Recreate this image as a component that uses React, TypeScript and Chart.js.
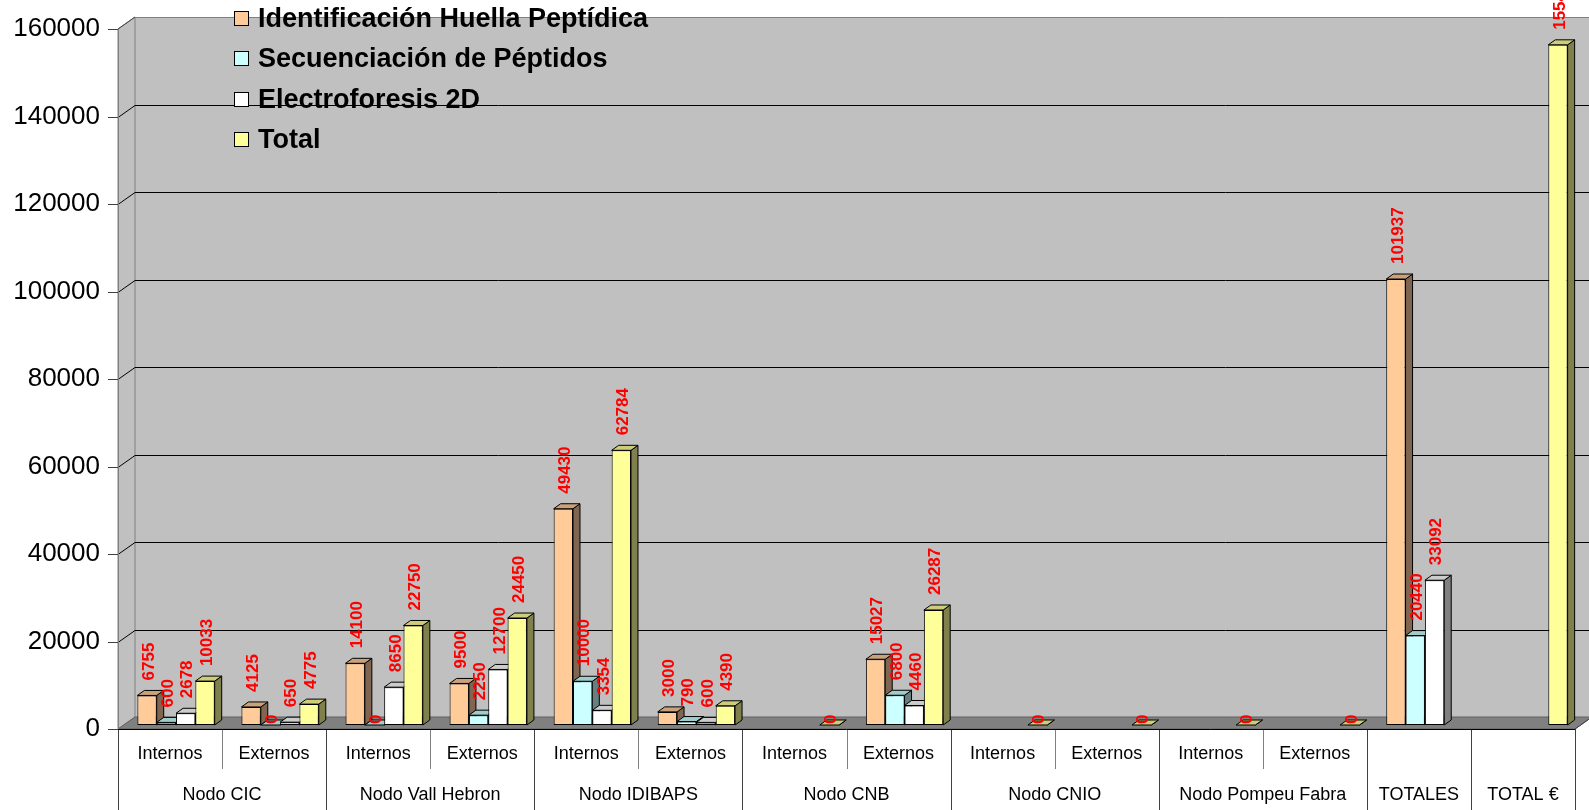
import React, { useEffect, useRef } from 'react';
import { Chart, registerables } from 'chart.js';
Chart.register(...registerables);

const categories = ['Internos', 'Externos', 'Internos', 'Externos', 'Internos', 'Externos', 'Internos', 'Externos', 'Internos', 'Externos', 'Internos', 'Externos', '', ''];
const groupLabels = ['Nodo CIC', 'Nodo Vall Hebron', 'Nodo IDIBAPS', 'Nodo CNB', 'Nodo CNIO', 'Nodo Pompeu Fabra', 'TOTALES', 'TOTAL €'];
const groupSpans = [2, 2, 2, 2, 2, 2, 1, 1];
const seriesNames = ['Identificación Huella Peptídica', 'Secuenciación de Péptidos', 'Electroforesis 2D', 'Total'];
const huella = [6755, 4125, 14100, 9500, 49430, 3000, null, 15027, null, null, null, null, 101937, null];
const secuenciacion = [600, 0, 0, 2250, 10000, 790, null, 6800, null, null, null, null, 20440, null];
const electroforesis = [2678, 650, 8650, 12700, 3354, 600, null, 4460, null, null, null, null, 33092, null];
const total = [10033, 4775, 22750, 24450, 62784, 4390, 0, 26287, 0, 0, 0, 0, null, 155469];
const yMax = 160000;
const yStep = 20000;

const frontColors = ['#FFCC99', '#CCFFFF', '#FFFFFF', '#FFFF99'];
const sideColors = ['#806650', '#668080', '#808080', '#80804D'];
const topColors = ['#C9A27C', '#A0CCCC', '#CCCCCC', '#CCCC7A'];

const FONT = '"Liberation Sans", Arial, sans-serif';
// projection offsets relative to the bar plane
const FX = -6, FY = 4; // front plane
const BX = 11, BY = -8; // back wall
const DX = 7, DY = 5; // bar depth

const scenePlugin = {
  id: 'scene3d',
  beforeDatasetsDraw(chart: any) {
    const { ctx, chartArea, scales } = chart;
    const { left, right, bottom } = chartArea;
    const y = scales.y;
    const W = chart.width;
    const yTopBar = y.getPixelForValue(yMax);
    ctx.save();
    ctx.lineWidth = 1;
    ctx.fillStyle = '#C0C0C0';
    ctx.fillRect(left + BX, yTopBar + BY, W - (left + BX), bottom - yTopBar);
    ctx.strokeStyle = '#808080';
    ctx.beginPath();
    ctx.moveTo(left + BX, Math.round(yTopBar + BY) + 0.5);
    ctx.lineTo(W, Math.round(yTopBar + BY) + 0.5);
    ctx.stroke();
    ctx.beginPath();
    ctx.moveTo(left + FX, yTopBar + FY);
    ctx.lineTo(left + BX, yTopBar + BY);
    ctx.lineTo(left + BX, bottom + BY);
    ctx.lineTo(left + FX, bottom + FY);
    ctx.closePath();
    ctx.fillStyle = '#C0C0C0';
    ctx.fill();
    ctx.strokeStyle = '#808080';
    ctx.stroke();
    for (let v = yStep; v < yMax; v += yStep) {
      const py = Math.round(y.getPixelForValue(v)) + 0.5;
      ctx.strokeStyle = '#000000';
      ctx.beginPath();
      ctx.moveTo(left + FX, py + FY);
      ctx.lineTo(left + BX, py + BY);
      ctx.lineTo(W, py + BY);
      ctx.stroke();
    }
    ctx.strokeStyle = '#404040';
    ctx.beginPath();
    ctx.moveTo(left + FX, yTopBar + FY);
    ctx.lineTo(left + BX, yTopBar + BY);
    ctx.stroke();
    ctx.strokeStyle = '#404040';
    for (let v = 0; v <= yMax; v += yStep) {
      const py = Math.round(y.getPixelForValue(v)) + 0.5 + FY;
      ctx.beginPath();
      ctx.moveTo(left + FX - 10, py);
      ctx.lineTo(left + FX, py);
      ctx.stroke();
    }
    ctx.beginPath();
    ctx.moveTo(left + FX, bottom + FY);
    ctx.lineTo(right + FX, bottom + FY);
    ctx.lineTo(right + BX, bottom + BY);
    ctx.lineTo(left + BX, bottom + BY);
    ctx.closePath();
    ctx.fillStyle = '#808080';
    ctx.fill();
    ctx.strokeStyle = '#606060';
    ctx.stroke();
    ctx.strokeStyle = '#808080';
    ctx.beginPath();
    ctx.moveTo(left + FX + 0.5, yTopBar + FY);
    ctx.lineTo(left + FX + 0.5, bottom + FY);
    ctx.stroke();

    ctx.strokeStyle = '#000000';
    chart.data.datasets.forEach((ds: any, i: number) => {
      const meta = chart.getDatasetMeta(i);
      meta.data.forEach((bar: any, j: number) => {
        const v = ds.data[j];
        if (v == null) return;
        const p = bar.getProps(['x', 'y', 'base', 'width'], true);
        const xl = p.x - p.width / 2;
        const xr = p.x + p.width / 2;
        const ty = p.y;
        const base = p.base;
        ctx.beginPath();
        ctx.moveTo(xr, ty);
        ctx.lineTo(xr + DX, ty - DY);
        ctx.lineTo(xr + DX, base - DY);
        ctx.lineTo(xr, base);
        ctx.closePath();
        ctx.fillStyle = sideColors[i];
        ctx.fill();
        ctx.stroke();
        ctx.beginPath();
        ctx.moveTo(xl, ty);
        ctx.lineTo(xr, ty);
        ctx.lineTo(xr + DX, ty - DY);
        ctx.lineTo(xl + DX, ty - DY);
        ctx.closePath();
        ctx.fillStyle = topColors[i];
        ctx.fill();
        ctx.stroke();
      });
    });
    ctx.restore();
  },
  afterDatasetsDraw(chart: any) {
    const { ctx } = chart;
    ctx.save();
    ctx.fillStyle = '#FF0000';
    ctx.font = 'bold 17px ' + FONT;
    ctx.textAlign = 'left';
    ctx.textBaseline = 'middle';
    chart.data.datasets.forEach((ds: any, i: number) => {
      const meta = chart.getDatasetMeta(i);
      meta.data.forEach((bar: any, j: number) => {
        const v = ds.data[j];
        if (v == null) return;
        const p = bar.getProps(['x', 'y', 'base'], true);
        ctx.save();
        ctx.translate(p.x + 2, v === 0 ? p.base - 1 : p.y - 15);
        ctx.rotate(-Math.PI / 2);
        ctx.fillText(String(v), 0, 0);
        ctx.restore();
      });
    });
    ctx.restore();
  },
  afterDraw(chart: any) {
    const { ctx, chartArea } = chart;
    const { left, right, bottom } = chartArea;
    const n = categories.length;
    const catW = (right - left) / n;
    const y0 = bottom + FY;
    const H = chart.height;
    ctx.save();
    ctx.lineWidth = 1;
    const bounds = new Set<number>();
    let acc = 0;
    bounds.add(0);
    groupSpans.forEach((s) => { acc += s; bounds.add(acc); });
    for (let k = 0; k <= n; k++) {
      const xk = Math.round(left + FX + k * catW) + 0.5;
      const isGroup = bounds.has(k);
      ctx.strokeStyle = isGroup ? '#404040' : '#808080';
      ctx.beginPath();
      ctx.moveTo(xk, y0);
      ctx.lineTo(xk, isGroup ? H : y0 + 40);
      ctx.stroke();
    }
    ctx.strokeStyle = '#404040';
    ctx.beginPath();
    ctx.moveTo(right + FX, y0);
    ctx.lineTo(right + BX, bottom + BY);
    ctx.stroke();
    ctx.strokeStyle = '#000000';
    ctx.beginPath();
    ctx.moveTo(left + FX, Math.round(y0) + 0.5);
    ctx.lineTo(right + FX, Math.round(y0) + 0.5);
    ctx.stroke();
    ctx.fillStyle = '#000000';
    ctx.font = '18px ' + FONT;
    ctx.textAlign = 'center';
    ctx.textBaseline = 'middle';
    let start = 0;
    groupLabels.forEach((g, gi) => {
      const s = groupSpans[gi];
      const cx = left + FX + (start + s / 2) * catW;
      ctx.fillText(g, cx, bottom + 70);
      start += s;
    });
    ctx.restore();
  },
};

export default function App() {
  const canvasRef = useRef<HTMLCanvasElement | null>(null);
  useEffect(() => {
    document.body.style.margin = '0';
    const canvas = canvasRef.current;
    if (!canvas) return;
    const seriesData = [huella, secuenciacion, electroforesis, total];
    const chart = new Chart(canvas, {
      type: 'bar',
      data: {
        labels: categories,
        datasets: seriesNames.map((name, i) => ({
          label: name,
          data: seriesData[i] as any,
          backgroundColor: frontColors[i],
          borderColor: '#000000',
          borderWidth: 1,
          borderSkipped: false,
          categoryPercentage: 0.743,
          barPercentage: 1,
        })),
      },
      options: {
        responsive: false,
        animation: false,
        layout: { padding: { left: 0, right: 8, top: 25, bottom: 0 } },
        plugins: { legend: { display: false }, tooltip: { enabled: false } },
        scales: {
          x: {
            grid: { display: false, drawTicks: false },
            border: { display: false },
            ticks: {
              autoSkip: false,
              maxRotation: 0,
              minRotation: 0,
              color: '#000000',
              font: { family: FONT, size: 18 },
              padding: 18,
              labelOffset: FX,
            },
            afterFit: (scale: any) => { scale.height = 85; scale.paddingLeft = 0; scale.paddingRight = 0; },
          },
          y: {
            min: 0,
            max: yMax,
            grid: { display: false, drawTicks: false },
            border: { display: false },
            ticks: {
              stepSize: yStep,
              color: '#000000',
              font: { family: FONT, size: 26 },
              padding: 24,
              labelOffset: FY,
              callback: (v: any) => String(v),
            },
            afterFit: (scale: any) => { scale.width = 124; scale.paddingTop = 0; scale.paddingBottom = 0; },
          },
        },
      },
      plugins: [scenePlugin],
    });
    return () => chart.destroy();
  }, []);

  return (
    <div style={{ position: 'absolute', left: 0, top: 0, width: 1589, height: 810, background: '#FFFFFF', overflow: 'hidden' }}>
      <canvas ref={canvasRef} width={1589} height={810} style={{ position: 'absolute', left: 0, top: 0, width: 1589, height: 810 }} />
      {seriesNames.map((name, i) => (
        <div
          key={name}
          style={{
            position: 'absolute',
            left: 234,
            top: 18.5 + 40.4 * i - 20,
            height: 40,
            display: 'flex',
            alignItems: 'center',
            whiteSpace: 'nowrap',
            fontFamily: FONT,
            fontWeight: 'bold',
            fontSize: 27,
            color: '#000000',
          }}
        >
          <span style={{ display: 'inline-block', width: 15, height: 15, boxSizing: 'border-box', border: '1px solid #000', background: frontColors[i], marginRight: 9 }} />
          <span>{name}</span>
        </div>
      ))}
    </div>
  );
}
